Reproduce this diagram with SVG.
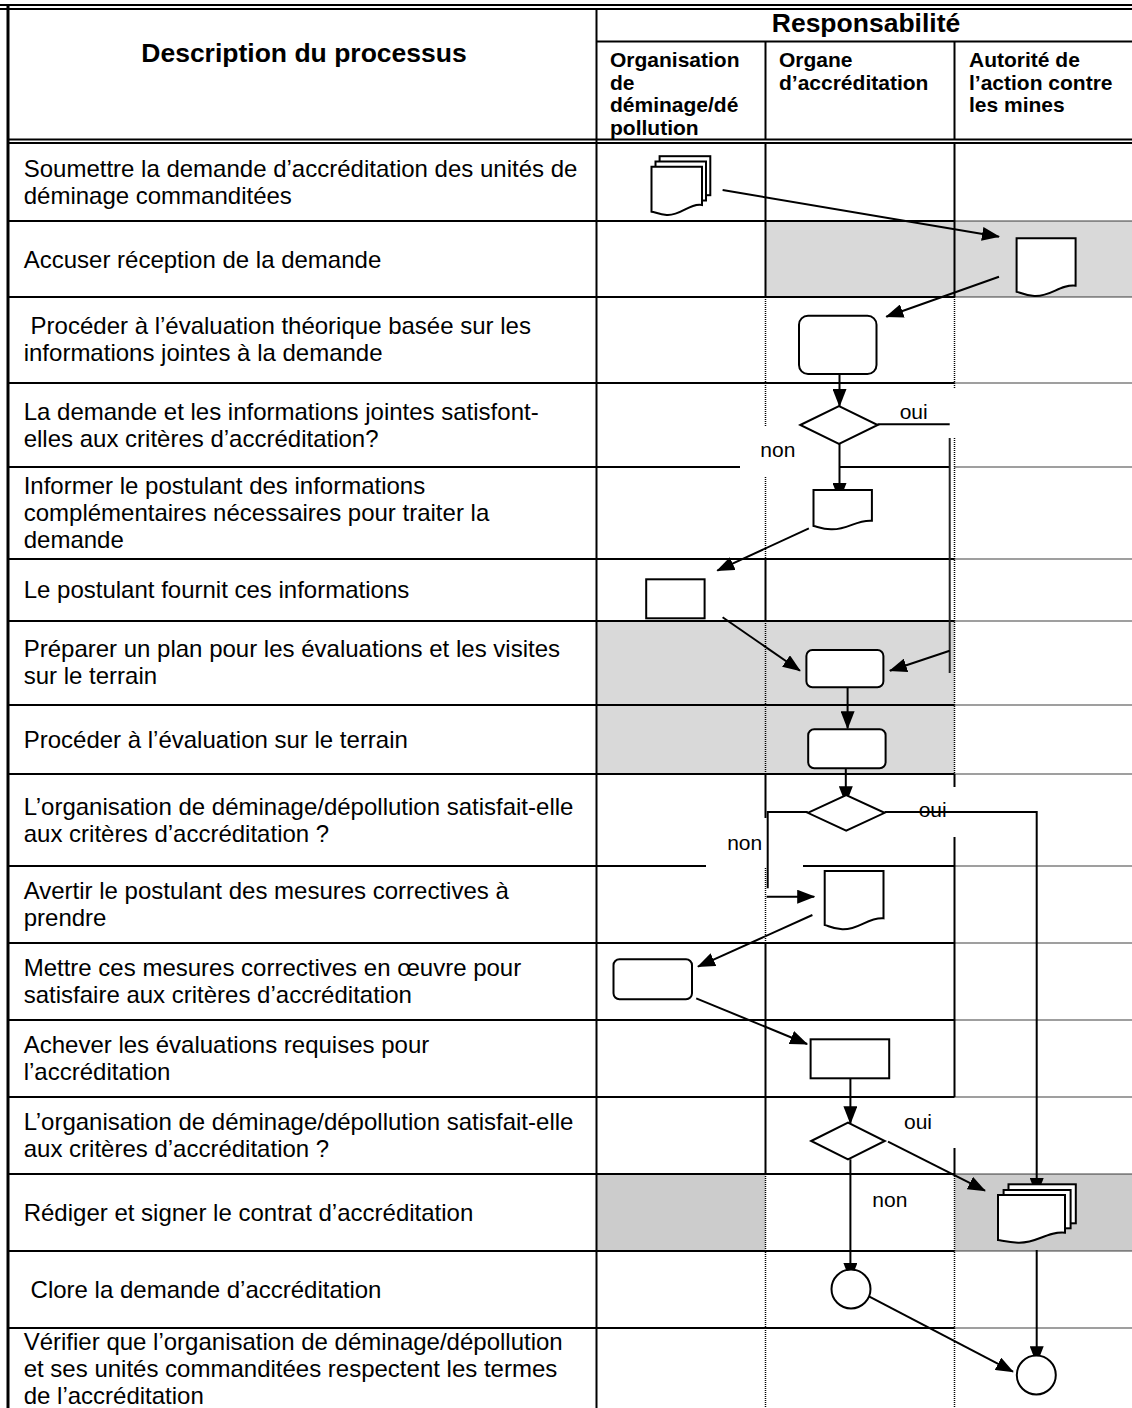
<svg xmlns="http://www.w3.org/2000/svg" width="1132" height="1408" viewBox="0 0 1132 1408">
<defs>
<style>
.t{font-family:"Liberation Sans",Arial,sans-serif;font-size:24px;fill:#000}
.h{font-family:"Liberation Sans",Arial,sans-serif;font-size:26.5px;font-weight:bold;fill:#000}
.sh{font-family:"Liberation Sans",Arial,sans-serif;font-size:21px;font-weight:bold;fill:#000}
.lbl{font-family:"Liberation Sans",Arial,sans-serif;font-size:21px;fill:#000}
.g{stroke:#000;stroke-width:2;fill:none}
.d{stroke:#000;stroke-width:1.5;stroke-dasharray:1 1;fill:none}
.s{fill:#fff;stroke:#000;stroke-width:2}
.c{stroke:#000;stroke-width:2;fill:none}
.a{stroke:#000;stroke-width:2;fill:none;marker-end:url(#ah)}
</style>
<marker id="ah" markerUnits="userSpaceOnUse" markerWidth="18" markerHeight="14" refX="17" refY="7" orient="auto">
<path d="M0,0 L18,7 L0,14 z" fill="#000"/>
</marker>
</defs>
<rect width="1132" height="1408" fill="#fff"/>
<g id="shading">
<rect x="765.5" y="221" width="366.5" height="76" fill="#d9d9d9"/>
<rect x="596.5" y="621" width="358" height="153" fill="#d9d9d9"/>
<rect x="596.5" y="1174" width="169" height="77" fill="#cccccc"/>
<rect x="954.5" y="1174" width="177.5" height="77" fill="#cccccc"/>
</g>
<g id="table">
<line class="g" x1="0" y1="5" x2="1132" y2="5"/>
<line class="g" x1="0" y1="9" x2="1132" y2="9"/>
<line x1="8" y1="4" x2="8" y2="1408" stroke="#000" stroke-width="3"/>
<line class="g" x1="596.5" y1="9" x2="596.5" y2="1408"/>
<line class="g" x1="596.5" y1="41.5" x2="1132" y2="41.5"/>
<line class="g" x1="765.5" y1="41.5" x2="765.5" y2="139.5"/>
<line class="g" x1="954.5" y1="41.5" x2="954.5" y2="139.5"/>
<line class="g" x1="8" y1="139.5" x2="1132" y2="139.5"/>
<line class="g" x1="8" y1="143" x2="1132" y2="143"/>
<path class="g" d="M8,221H954.5 M8,297H954.5 M8,383H954.5 M8,467H740 M839.5,467H949.7 M8,559H954.5 M8,621H954.5 M8,705H954.5 M8,774H954.5 M8,866H706 M803,866H954.5 M8,943H954.5 M8,1020H954.5 M8,1097H954.5 M8,1174H954.5 M8,1251H954.5 M8,1328H954.5"/>
<path class="d" d="M954.5,221H1132 M954.5,297H1132 M954.5,383H1132 M954.5,467H1132 M954.5,559H1132 M954.5,621H1132 M954.5,705H1132 M954.5,774H1132 M954.5,866H1132 M954.5,943H1132 M954.5,1020H1132 M954.5,1097H1132 M954.5,1174H1132 M954.5,1251H1132 M954.5,1328H1132"/>
<path class="g" d="M765.5,143V297 M765.5,559V621 M765.5,774V818 M765.5,943V1174 M954.5,143V297 M954.5,774V787 M954.5,837V1097 M954.5,1148V1174"/>
<path class="d" d="M765.5,297V427 M765.5,477V559 M765.5,621V774 M765.5,868V943 M765.5,1174V1408 M954.5,297V388 M954.5,438V774 M954.5,1174V1408"/>
</g>
<g id="header">
<text class="h" x="304" y="62" text-anchor="middle">Description du processus</text>
<text class="h" x="866" y="32" text-anchor="middle">Responsabilité</text>
<text class="sh" x="610" y="67">Organisation</text>
<text class="sh" x="610" y="89.7">de</text>
<text class="sh" x="610" y="112.4">déminage/dé</text>
<text class="sh" x="610" y="135">pollution</text>
<text class="sh" x="779" y="67">Organe</text>
<text class="sh" x="779" y="89.7">d’accréditation</text>
<text class="sh" x="969" y="67">Autorité de</text>
<text class="sh" x="969" y="89.7">l’action contre</text>
<text class="sh" x="969" y="112.4">les mines</text>
</g>
<g id="descriptions">
<text class="t" x="23.7" y="176.7">Soumettre la demande d’accréditation des unités de</text>
<text class="t" x="23.7" y="203.7">déminage commanditées</text>
<text class="t" x="23.7" y="267.5">Accuser réception de la demande</text>
<text class="t" x="30.6" y="334">Procéder à l’évaluation théorique basée sur les</text>
<text class="t" x="23.7" y="361">informations jointes à la demande</text>
<text class="t" x="23.7" y="419.5">La demande et les informations jointes satisfont-</text>
<text class="t" x="23.7" y="446.5">elles aux critères d’accréditation?</text>
<text class="t" x="23.7" y="493.5">Informer le postulant des informations</text>
<text class="t" x="23.7" y="520.5">complémentaires nécessaires pour traiter la</text>
<text class="t" x="23.7" y="547.5">demande</text>
<text class="t" x="23.7" y="598">Le postulant fournit ces informations</text>
<text class="t" x="23.7" y="657">Préparer un plan pour les évaluations et les visites</text>
<text class="t" x="23.7" y="684">sur le terrain</text>
<text class="t" x="23.7" y="747.5">Procéder à l’évaluation sur le terrain</text>
<text class="t" x="23.7" y="814.5">L’organisation de déminage/dépollution satisfait-elle</text>
<text class="t" x="23.7" y="841.5">aux critères d’accréditation ?</text>
<text class="t" x="23.7" y="898.5">Avertir le postulant des mesures correctives à</text>
<text class="t" x="23.7" y="925.5">prendre</text>
<text class="t" x="23.7" y="975.5">Mettre ces mesures correctives en œuvre pour</text>
<text class="t" x="23.7" y="1002.5">satisfaire aux critères d’accréditation</text>
<text class="t" x="23.7" y="1052.5">Achever les évaluations requises pour</text>
<text class="t" x="23.7" y="1079.5">l’accréditation</text>
<text class="t" x="23.7" y="1129.5">L’organisation de déminage/dépollution satisfait-elle</text>
<text class="t" x="23.7" y="1156.5">aux critères d’accréditation ?</text>
<text class="t" x="23.7" y="1220.5">Rédiger et signer le contrat d’accréditation</text>
<text class="t" x="30.6" y="1297.5">Clore la demande d’accréditation</text>
<text class="t" x="23.7" y="1350">Vérifier que l’organisation de déminage/dépollution</text>
<text class="t" x="23.7" y="1377">et ses unités commanditées respectent les termes</text>
<text class="t" x="23.7" y="1404">de l’accréditation</text>
</g>
<g id="connectors">
<line class="a" x1="722.6" y1="190" x2="999" y2="236.7"/>
<line class="a" x1="999" y1="276.7" x2="886.3" y2="316.7"/>
<line class="a" x1="839.5" y1="374" x2="839.5" y2="406"/>
<path class="c" d="M877.5,424.3H949.7"/>
<line x1="949.7" y1="438" x2="949.7" y2="673" stroke="#222" stroke-width="2"/>
<line class="a" x1="949.7" y1="650.7" x2="889.9" y2="670.7"/>
<line class="a" x1="839.5" y1="444" x2="839.5" y2="500"/>
<line class="a" x1="808.9" y1="528.3" x2="717.3" y2="570.7"/>
<line class="a" x1="722.6" y1="617.3" x2="800" y2="670.7"/>
<line class="a" x1="847.6" y1="687.3" x2="847.6" y2="728.3"/>
<line class="a" x1="845.8" y1="768.3" x2="845.8" y2="803.3"/>
<path class="a" d="M884.6,812H1036.7V1195"/>
<path class="c" d="M807.8,812H767.7V888.3"/>
<line class="a" x1="766.6" y1="896.7" x2="814.2" y2="896.7"/>
<line class="a" x1="812.4" y1="915" x2="698" y2="966.7"/>
<line class="a" x1="696.2" y1="998.3" x2="807.1" y2="1044"/>
<line class="a" x1="850.4" y1="1078.3" x2="850.4" y2="1123.3"/>
<line class="a" x1="888" y1="1141.7" x2="985" y2="1190.7"/>
<line class="a" x1="850.4" y1="1159.3" x2="850.4" y2="1280"/>
<line class="a" x1="1036.7" y1="1250" x2="1036.7" y2="1363.3"/>
<line class="a" x1="869.4" y1="1296.7" x2="1013" y2="1371.7"/>
</g>
<g id="labels">
<text class="lbl" x="899.7" y="419">oui</text>
<text class="lbl" x="760.3" y="456.7">non</text>
<text class="lbl" x="918.7" y="816.7">oui</text>
<text class="lbl" x="727.2" y="850">non</text>
<text class="lbl" x="904" y="1129.3">oui</text>
<text class="lbl" x="872.3" y="1206.7">non</text>
</g>
<g id="n1">
<rect class="s" x="659.6" y="156.2" width="50.7" height="39"/>
<rect class="s" x="655.5" y="161.5" width="50.5" height="39"/>
<path class="s" d="M651.5,166.7H702V205C689,203 681,216 666.7,215C659,214.5 655,212 651.5,211.7Z"/>
</g>
<g id="n2"><path class="s" d="M1016.6,238.3H1075.6V285.7C1060,284 1051,297 1034.3,296C1025,295.5 1020,292.5 1016.6,291.7Z"/></g>
<g id="n3"><rect class="s" x="799" y="315.7" width="77.5" height="58.3" rx="9"/></g>
<g id="n4"><path class="s" d="M800.3,425L839,406L877.7,425L839,444Z"/></g>
<g id="n5"><path class="s" d="M813.5,490H871.9V520.7C856,519.5 848,530 831,529.3C822,529 817,526.5 813.5,526Z"/></g>
<g id="n6"><rect class="s" x="646.2" y="579.3" width="58.4" height="39"/></g>
<g id="n7"><rect class="s" x="806.4" y="650" width="77" height="37.3" rx="6"/></g>
<g id="n8"><rect class="s" x="808.2" y="729.3" width="77.4" height="39" rx="6"/></g>
<g id="n9"><path class="s" d="M807.8,812.8L846.2,795L884.6,812.8L846.2,830.6Z"/></g>
<g id="n10"><path class="s" d="M824.7,871H883.5V918.3C868,917 859,930 842.3,929.3C833,929 828,925.5 824.7,925Z"/></g>
<g id="n11"><rect class="s" x="613.5" y="959.3" width="78.5" height="40" rx="6"/></g>
<g id="n12"><rect class="s" x="810.6" y="1039.3" width="78.6" height="39"/></g>
<g id="n13"><path class="s" d="M811.2,1141L848,1122.7L884.8,1141L848,1159.3Z"/></g>
<g id="n14">
<rect class="s" x="1008.5" y="1184.3" width="67.3" height="39"/>
<rect class="s" x="1003.6" y="1190" width="67" height="38.3"/>
<path class="s" d="M998,1195H1065V1232.7C1047,1231 1037,1243.5 1018,1242.7C1008,1242 1002,1240.5 998,1240Z"/>
</g>
<g id="n15"><circle class="s" cx="851" cy="1289" r="19.5"/></g>
<g id="n16"><circle class="s" cx="1036.3" cy="1375" r="19.5"/></g>
</svg>
